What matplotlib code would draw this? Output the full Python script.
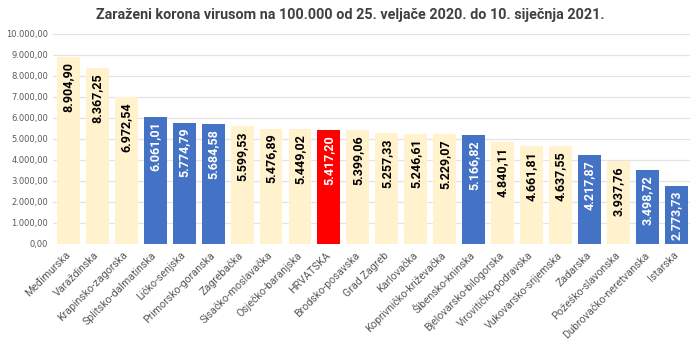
import matplotlib.pyplot as plt
from matplotlib.ticker import FuncFormatter

zupanije = ['Međimurska', 'Varaždinska', 'Krapinsko-zagorska', 'Splitsko-dalmatinska',
            'Ličko-senjska', 'Primorsko-goranska', 'Zagrebačka', 'Sisačko-moslavačka',
            'Osječko-baranjska', 'HRVATSKA', 'Brodsko-posavska', 'Grad Zagreb',
            'Karlovačka', 'Koprivničko-križevačka', 'Šibensko-kninska',
            'Bjelovarsko-bilogorska', 'Virovitičko-podravska', 'Vukovarsko-srijemska',
            'Zadarska', 'Požeško-slavonska', 'Dubrovačko-neretvanska', 'Istarska']
zarazeni = [8904.90, 8367.25, 6972.54, 6061.01, 5774.79, 5684.58, 5599.53, 5476.89,
            5449.02, 5417.20, 5399.06, 5257.33, 5246.61, 5229.07, 5166.82, 4840.11,
            4661.81, 4637.55, 4217.87, 3937.76, 3498.72, 2773.73]
# 'c' = kontinent, 'j' = jadranske zupanije, 'h' = prosjek Hrvatske
skupina = ['c', 'c', 'c', 'j', 'j', 'j', 'c', 'c', 'c', 'h', 'c', 'c',
           'c', 'c', 'j', 'c', 'c', 'c', 'j', 'c', 'j', 'j']

boje = {'c': '#FFF2CC', 'j': '#4472C4', 'h': '#FF0000'}
boje_teksta = {'c': 'black', 'j': 'white', 'h': 'white'}


def hr_broj(v, pos=None):
    s = f'{v:,.2f}'
    return s.replace(',', 'X').replace('.', ',').replace('X', '.')


fig = plt.figure(figsize=(7, 3.42), dpi=100)
ax = fig.add_axes([0.0757, 0.287, 0.91, 0.614])

x = range(len(zupanije))
bars = ax.bar(x, zarazeni, width=0.79, color=[boje[s] for s in skupina], zorder=2)

for b, v, s in zip(bars, zarazeni, skupina):
    ax.annotate(hr_broj(v), (b.get_x() + b.get_width() / 2, v),
                xytext=(0, -3.5), textcoords='offset points',
                rotation=90, ha='center', va='top', fontsize=9,
                family='Roboto', fontweight='bold', color=boje_teksta[s], zorder=3)

ax.set_ylim(0, 10000)
ax.set_xlim(-0.53, 21.47)
ax.set_yticks(range(0, 10001, 1000))
ax.yaxis.set_major_formatter(FuncFormatter(hr_broj))
ax.grid(axis='y', color='#E3E3E3', linewidth=0.9, zorder=0)
for sp in ax.spines.values():
    sp.set_visible(False)
ax.tick_params(axis='both', length=0, labelsize=6, colors='#595959')

ax.set_xticks(list(x))
ax.set_xticklabels(zupanije, rotation=45, ha='right', va='center',
                   rotation_mode='anchor', fontsize=7.7, family='Roboto',
                   color='#595959')
ax.tick_params(axis='x', pad=7)

fig.text(0.5, 0.955,
         'Zaraženi korona virusom na 100.000 od 25. veljače 2020. do 10. siječnja 2021.',
         ha='center', va='center', fontsize=10.4, family='Roboto',
         fontweight='bold', color='#404040')

fig.savefig('out.png', dpi=100)
